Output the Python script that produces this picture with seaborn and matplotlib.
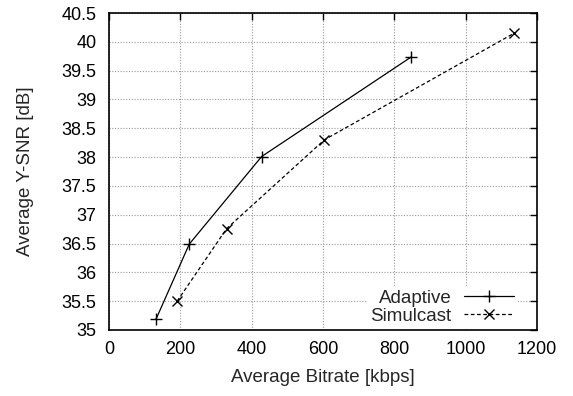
import matplotlib
matplotlib.use("Agg")
import matplotlib.pyplot as plt
import seaborn as sns
import pandas as pd

adaptive_bitrate = [132, 225, 428, 848]
adaptive_snr = [35.19, 36.49, 38.01, 39.74]
simulcast_bitrate = [191, 330, 604, 1136]
simulcast_snr = [35.50, 36.76, 38.30, 40.15]
xticks = [0, 200, 400, 600, 800, 1000, 1200]
yticks = [35, 35.5, 36, 36.5, 37, 37.5, 38, 38.5, 39, 39.5, 40, 40.5]

sns.set_style("white")
plt.rcParams['font.family'] = ['Liberation Sans', 'DejaVu Sans']

df_a = pd.DataFrame({"bitrate": adaptive_bitrate, "snr": adaptive_snr})
df_s = pd.DataFrame({"bitrate": simulcast_bitrate, "snr": simulcast_snr})

fig = plt.figure(figsize=(5.73, 3.96), dpi=100)
ax = fig.add_axes([109/573, 1 - 330/396, (537-109)/573, (330-13)/396])

sns.lineplot(data=df_a, x="bitrate", y="snr", color="black", marker="+",
             linestyle="-", markersize=8, markeredgewidth=1.0,
             markeredgecolor="black", linewidth=0.9,
             label="Adaptive", ax=ax, zorder=3)
sns.lineplot(data=df_s, x="bitrate", y="snr", color="black", marker="x",
             linestyle=(0, (3, 2)), markersize=7.5, markeredgewidth=1.0,
             markeredgecolor="black", linewidth=0.9,
             label="Simulcast", ax=ax, zorder=3)

ax.set_xlim(0, 1200)
ax.set_ylim(35, 40.5)
ax.set_xticks(xticks)
ax.set_yticks(yticks)
ax.set_yticklabels([f"{t:g}" for t in yticks])
ax.grid(True, color="#999999", linestyle=(0, (1, 1.5)), linewidth=0.8)
ax.tick_params(direction="in", top=True, right=True, length=5, width=1,
               labelsize=13, colors="black")
ax.tick_params(axis="y", pad=9)
ax.tick_params(axis="x", pad=8)
for s in ax.spines.values():
    s.set_color("black")
    s.set_linewidth(1.2)
ax.set_xlabel("Average Bitrate [kbps]", fontsize=13.5, labelpad=8)
ax.set_ylabel("Average Y-SNR [dB]", fontsize=13.5, labelpad=20)

leg = ax.legend(loc="lower right", bbox_to_anchor=(1 - 19/428, 0.004),
                markerfirst=False, frameon=True, fontsize=13.5,
                handlelength=2.7, borderpad=0.2, labelspacing=0.05,
                handletextpad=0.65, borderaxespad=0.0)
frame = leg.get_frame()
frame.set_edgecolor("white")
frame.set_facecolor("white")
frame.set_alpha(1)
frame.set_linewidth(0)
for t in leg.get_texts():
    t.set_ha("right")
leg.set_zorder(5)

fig.savefig("out.png", dpi=100)
